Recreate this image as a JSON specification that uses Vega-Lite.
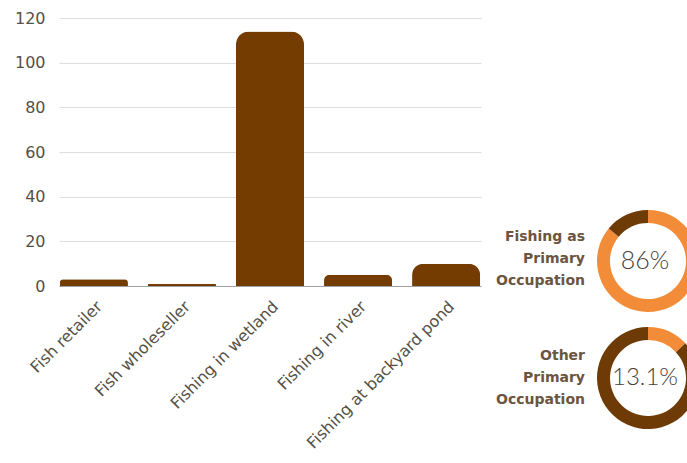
{
  "$schema": "https://vega.github.io/schema/vega-lite/v6.json",
  "background": "white",
  "padding": {"left": 14, "top": 10, "right": 0, "bottom": 0},
  "config": {
    "view": {"stroke": null},
    "font": "DejaVu Sans",
    "concat": {"spacing": 9}
  },
  "datasets": {
    "bars": [
      {"activity": "Fish retailer", "count": 3},
      {"activity": "Fish wholeseller", "count": 1},
      {"activity": "Fishing in wetland", "count": 114},
      {"activity": "Fishing in river", "count": 5},
      {"activity": "Fishing at backyard pond", "count": 10}
    ],
    "donut1": [
      {"part": "share", "value": 86, "order": 1},
      {"part": "rest", "value": 14, "order": 2}
    ],
    "donut2": [
      {"part": "share", "value": 13.1, "order": 1},
      {"part": "rest", "value": 86.9, "order": 2}
    ],
    "labels1": [{"label": "Fishing as\nPrimary\nOccupation", "pct": "86%", "pos": 1}],
    "labels2": [{"label": "Other\nPrimary\nOccupation", "pct": "13.1%", "pos": 1}]
  },
  "hconcat": [
    {
      "width": 422,
      "height": 268,
      "data": {"name": "bars"},
      "mark": {"type": "bar", "color": "#743C00", "cornerRadiusTopLeft": 13, "cornerRadiusTopRight": 13},
      "encoding": {
        "x": {
          "field": "activity",
          "type": "nominal",
          "sort": null,
          "scale": {"paddingInner": 0.227, "paddingOuter": 0.01},
          "axis": {
            "title": null,
            "labelAngle": -45,
            "labelAlign": "right",
            "labelBaseline": "top",
            "labelFontSize": 16,
            "labelLimit": 400,
            "labelColor": "#555045",
            "ticks": false,
            "labelPadding": 12,
            "domainColor": "#a0a0a0",
            "domainWidth": 1
          }
        },
        "y": {
          "field": "count",
          "type": "quantitative",
          "scale": {"domain": [0, 120]},
          "axis": {
            "title": null,
            "values": [0, 20, 40, 60, 80, 100, 120],
            "domain": false,
            "ticks": false,
            "labelFontSize": 16,
            "labelColor": "#555045",
            "labelPadding": 14,
            "gridColor": "#dddddd"
          }
        }
      }
    },
    {
      "spacing": 15,
      "vconcat": [
        {
          "width": 10,
          "height": 177,
          "data": {"values": [{}]},
          "mark": {"type": "text", "text": ""}
        },
        {
          "spacing": 12,
          "hconcat": [
            {
              "width": 95,
              "height": 102,
              "data": {"name": "labels1"},
              "mark": {"type": "text", "align": "right", "baseline": "middle", "lineBreak": "\n", "lineHeight": 22, "fontSize": 14, "fontWeight": "bold", "color": "#6b5540", "dy": -24},
              "encoding": {
                "x": {"field": "pos", "type": "quantitative", "scale": {"domain": [0, 1]}, "axis": null},
                "text": {"field": "label"}
              }
            },
            {
              "width": 102,
              "height": 102,
              "layer": [
                {
                  "data": {"name": "donut1"},
                  "mark": {"type": "arc", "innerRadius": 38, "outerRadius": 51},
                  "encoding": {
                    "theta": {"field": "value", "type": "quantitative", "stack": true},
                    "order": {"field": "order"},
                    "color": {"field": "part", "type": "nominal", "scale": {"domain": ["share", "rest"], "range": ["#F28C38", "#6E3A06"]}, "legend": null}
                  }
                },
                {
                  "data": {"name": "labels1"},
                  "mark": {"type": "text", "font": "Lato", "fontSize": 25, "fontWeight": 300, "color": "#4a4038", "dx": -3},
                  "encoding": {"text": {"field": "pct"}}
                }
              ]
            }
          ]
        },
        {
          "spacing": 12,
          "hconcat": [
            {
              "width": 95,
              "height": 102,
              "data": {"name": "labels2"},
              "mark": {"type": "text", "align": "right", "baseline": "middle", "lineBreak": "\n", "lineHeight": 22, "fontSize": 14, "fontWeight": "bold", "color": "#6b5540", "dy": -22},
              "encoding": {
                "x": {"field": "pos", "type": "quantitative", "scale": {"domain": [0, 1]}, "axis": null},
                "text": {"field": "label"}
              }
            },
            {
              "width": 102,
              "height": 102,
              "layer": [
                {
                  "data": {"name": "donut2"},
                  "mark": {"type": "arc", "innerRadius": 38, "outerRadius": 51},
                  "encoding": {
                    "theta": {"field": "value", "type": "quantitative", "stack": true},
                    "order": {"field": "order"},
                    "color": {"field": "part", "type": "nominal", "scale": {"domain": ["share", "rest"], "range": ["#F28C38", "#6E3A06"]}, "legend": null}
                  }
                },
                {
                  "data": {"name": "labels2"},
                  "mark": {"type": "text", "font": "Lato", "fontSize": 24, "fontWeight": 300, "color": "#4a4038", "dx": -3},
                  "encoding": {"text": {"field": "pct"}}
                }
              ]
            }
          ]
        }
      ]
    }
  ]
}
